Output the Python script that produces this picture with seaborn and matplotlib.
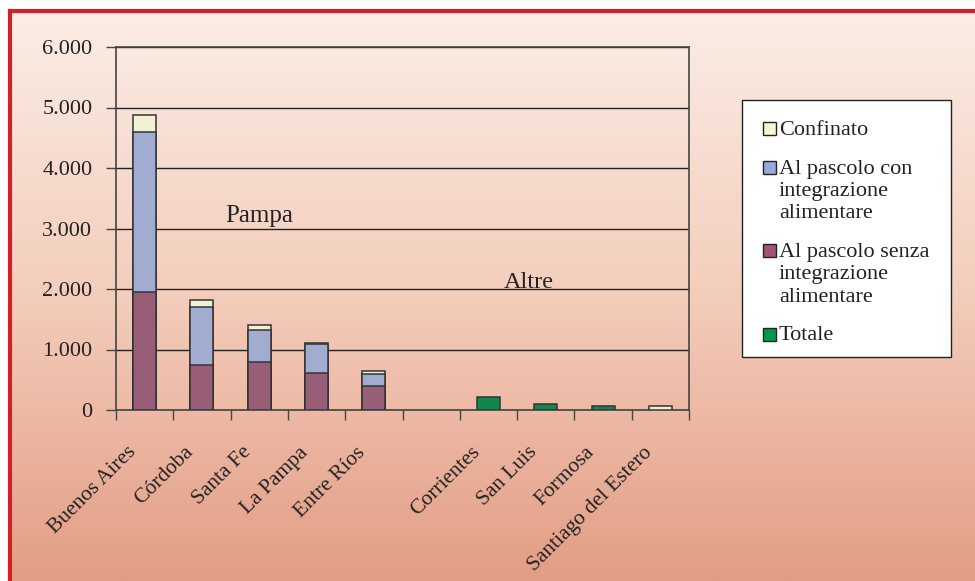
import numpy as np
import pandas as pd
import matplotlib
matplotlib.use("Agg")
import matplotlib.pyplot as plt
from matplotlib.colors import LinearSegmentedColormap
from matplotlib.patches import Rectangle
from matplotlib.ticker import FuncFormatter
from matplotlib.transforms import ScaledTranslation
import seaborn as sns

# data (000 capi)
provinces = ["Buenos Aires", "Córdoba", "Santa Fe", "La Pampa", "Entre Ríos", " ",
             "Corrientes", "San Luis", "Formosa", "Santiago del Estero"]
senza = [1950, 745, 800, 610, 390, 0, 0, 0, 0, 0]
con = [2650, 960, 530, 475, 210, 0, 0, 0, 0, 0]
confinato = [280, 115, 80, 15, 50, 0, 0, 0, 0, 0]
totale = [0, 0, 0, 0, 0, 0, 220, 100, 60, 0]
totale_cream = [0, 0, 0, 0, 0, 0, 0, 0, 0, 60]  # Santiago del Estero drawn in cream

legend_labels = ["Confinato", "Al pascolo con\nintegrazione\nalimentare",
                 "Al pascolo senza\nintegrazione\nalimentare", "Totale"]

c_conf = "#F8F5D0"
c_con = "#99A8D8"
c_senza = "#A25477"
c_tot = "#00994A"

df = pd.DataFrame({"prov": provinces, "senza": senza, "con": con,
                   "conf": confinato, "tot": totale, "tot2": totale_cream})
df["lvl2"] = df["senza"] + df["con"]
df["lvl3"] = df["lvl2"] + df["conf"]

sns.set_style("white")
plt.rcParams["font.family"] = ["Liberation Serif", "DejaVu Serif"]

W, H = 975, 581
fig = plt.figure(figsize=(W / 100, H / 100), dpi=100)


def fx(px):
    return px / W


def fy(py):
    return 1 - py / H


# gradient background with red frame
bg = fig.add_axes([fx(10), 0, 1 - fx(10), fy(11)])
grad = LinearSegmentedColormap.from_list("bg", ["#FBEDE6", "#F3CDBB", "#E39D85"])
bg.imshow(np.linspace(0, 1, 256).reshape(-1, 1), aspect="auto", cmap=grad,
          extent=[0, 1, 0, 1], origin="upper")
bg.set_xticks([])
bg.set_yticks([])
for s in ["right", "bottom"]:
    bg.spines[s].set_visible(False)
for s in ["left", "top"]:
    bg.spines[s].set_color("#D1202B")
    bg.spines[s].set_linewidth(3)
bg.set_zorder(0)

ax = fig.add_axes([fx(116), fy(410), fx(689) - fx(116), fy(47) - fy(410)])
ax.set_zorder(1)
ax.patch.set_alpha(0)

edge = "#333333"
kw = dict(x="prov", order=provinces, width=0.4, edgecolor=edge, linewidth=1.1,
          ax=ax, zorder=3)
sns.barplot(data=df, y="lvl3", color=c_conf, **kw)
sns.barplot(data=df, y="lvl2", color=c_con, **kw)
sns.barplot(data=df, y="senza", color=c_senza, **kw)
sns.barplot(data=df, y="tot", color=c_tot, **kw)
sns.barplot(data=df, y="tot2", color=c_conf, **kw)

# hide zero-height bars
for p in ax.patches:
    if p.get_height() == 0:
        p.set_visible(False)

ax.set_xlim(-0.5, len(provinces) - 0.5)
ax.set_ylim(0, 6000)
ax.set_yticks(np.arange(0, 6001, 1000))
ax.yaxis.set_major_formatter(FuncFormatter(lambda v, _: f"{int(v):,}".replace(",", ".")))
ax.grid(axis="y", color="#222222", linewidth=1)
ax.set_axisbelow(True)

# ticks on the category boundaries, labels drawn as rotated text under each slot
ax.set_xticks(np.arange(-0.5, len(provinces), 1))
ax.set_xticklabels([])
ax.tick_params(axis="x", which="major", length=7, width=1, color="#444444",
               direction="out", bottom=True)
lab_tr = ax.get_xaxis_transform() + ScaledTranslation(-0.18, -0.33, fig.dpi_scale_trans)
for i, name in enumerate(provinces):
    ax.text(i, 0, name, transform=lab_tr, rotation=45, ha="right", va="top",
            rotation_mode="anchor", fontsize=15.5, color="#222222", clip_on=False)

ax.tick_params(axis="y", length=7, width=1, color="#444444", direction="out",
               left=True, labelsize=16, labelcolor="#222222", pad=10)
for s in ax.spines.values():
    s.set_color("#444444")
    s.set_linewidth(1.2)
ax.set_xlabel("")
ax.set_ylabel("")

ax.text(2.0, 3200, "Pampa", fontsize=18, ha="center", va="center", color="#222222")
ax.text(6.7, 2110, "Altre", fontsize=17.5, ha="center", va="center", color="#222222")

# legend box, drawn by hand so the square sits on the first line of each entry
fig.patches.append(Rectangle((fx(742), fy(357)), fx(951) - fx(742), fy(100) - fy(357),
                             transform=fig.transFigure, facecolor="white",
                             edgecolor="#222222", linewidth=1, zorder=5))
leg_colors = [c_conf, c_con, c_senza, c_tot]
baseline = 135
for lab, col in zip(legend_labels, leg_colors):
    fig.patches.append(Rectangle((fx(763), fy(baseline)), fx(13), fy(0) - fy(13),
                                 transform=fig.transFigure, facecolor=col,
                                 edgecolor="#222222", linewidth=1, zorder=6))
    lines = lab.split("\n")
    for i, ln in enumerate(lines):
        fig.text(fx(779), fy(baseline + 22.5 * i), ln, fontsize=16, va="baseline",
                 ha="left", color="#222222", zorder=7)
    baseline += 22.5 * (len(lines) - 1) + 38.5

fig.savefig("out.png", dpi=100)
